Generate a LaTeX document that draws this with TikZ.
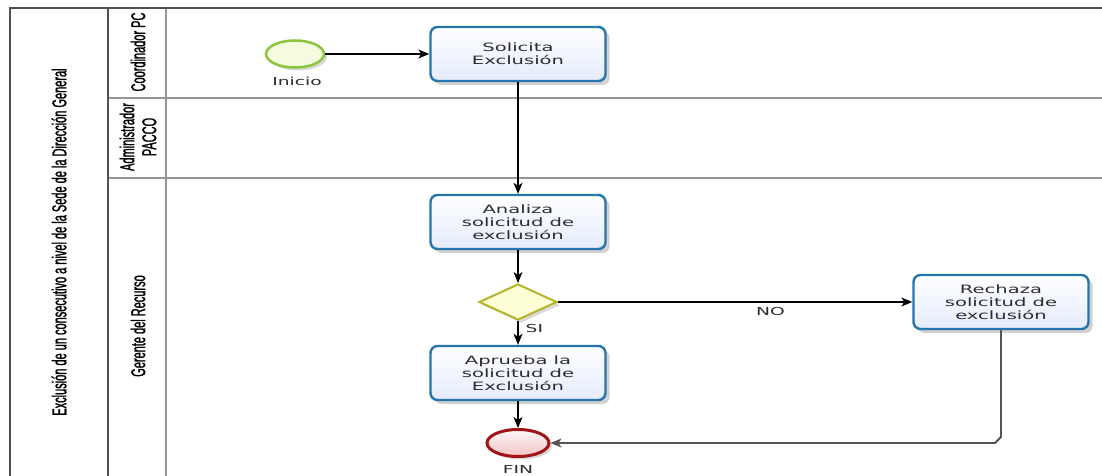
\documentclass[tikz,border=0pt]{standalone}
\usepackage{fontspec}
\newfontfamily\boxfont[FakeStretch=1.7]{DejaVu Sans}
\newfontfamily\lanefont[FakeStretch=0.55,FakeBold=1.2]{Liberation Sans}
\usetikzlibrary{shapes.geometric,arrows.meta,shadows}
\definecolor{taskblue}{RGB}{37,118,170}
\definecolor{taskfill}{RGB}{228,235,252}
\definecolor{startgreen}{RGB}{140,198,63}
\definecolor{startfill}{RGB}{244,251,222}
\definecolor{endred}{RGB}{160,22,22}
\definecolor{endfill}{RGB}{242,196,196}
\definecolor{gateborder}{RGB}{182,180,40}
\definecolor{gatefill}{RGB}{255,255,214}
\definecolor{txtgray}{RGB}{45,45,45}
\definecolor{poolgray}{RGB}{80,80,80}
\definecolor{lanegray}{RGB}{150,150,150}
\definecolor{backgray}{RGB}{85,85,85}
\tikzset{
  poolline/.style={draw=poolgray, line width=1.6pt},
  laneline/.style={draw=lanegray, line width=1.5pt},
  lanelabel/.style={rotate=90, font=\lanefont\fontsize{20}{22}\selectfont, align=center, text=black, inner sep=0pt},
  task/.style={draw=taskblue, line width=2.4pt, rounded corners=7pt, top color=white, bottom color=taskfill,
    minimum width=175pt, minimum height=54pt, align=center, text=txtgray, inner sep=2pt,
    font=\boxfont\fontsize{11.5}{13}\selectfont,
    drop shadow={shadow xshift=4pt, shadow yshift=-4pt, opacity=0.18, fill=black}},
  startev/.style={ellipse, draw=startgreen, line width=2.5pt, fill=startfill, minimum width=58pt, minimum height=27pt, inner sep=0pt,
    drop shadow={shadow xshift=3pt, shadow yshift=-3pt, opacity=0.15, fill=black}},
  endev/.style={ellipse, draw=endred, line width=3pt, top color=white!85!endfill, bottom color=endfill, minimum width=62pt, minimum height=27pt, inner sep=0pt,
    drop shadow={shadow xshift=3pt, shadow yshift=-3pt, opacity=0.15, fill=black}},
  gateway/.style={diamond, draw=gateborder, line width=2pt, fill=gatefill, minimum width=78pt, minimum height=36pt, inner sep=0pt,
    drop shadow={shadow xshift=3pt, shadow yshift=-3pt, opacity=0.15, fill=black}},
  lbl/.style={font=\boxfont\fontsize{11}{13}\selectfont, text=txtgray, inner sep=0pt},
  flow/.style={draw=black, line width=1.3pt, -{Stealth[length=11pt, width=9pt, inset=3pt]}},
  backflow/.style={draw=backgray, line width=1.8pt, -{Stealth[length=11pt, width=9pt, inset=3pt]}, color=backgray}
}
\begin{document}
\begin{tikzpicture}[x=1pt, y=-1pt]
\useasboundingbox (0,0) rectangle (1102,476);
\fill[white] (0,0) rectangle (1102,476);
% pool and lanes
\draw[laneline] (108,98) -- (1102,98);
\draw[laneline] (108,178) -- (1102,178);
\draw[laneline] (166,8) -- (166,480);
\draw[poolline] (108,8) -- (108,480);
\draw[poolline] (10,480) -- (10,8) -- (1102,8);
\node[lanelabel] (pooltitle) at (59,242) {Exclusión de un consecutivo a nivel de la Sede de la Dirección General};
\node[lanelabel] (lane1) at (138,52) {Coordinador PC};
\node[lanelabel] (lane2) at (138,137) {Administrador\\PACCO};
\node[lanelabel] (lane3) at (138,326) {Gerente del Recurso};
% flow objects
\node[startev] (inicio) at (295,54) {};
\node[lbl, anchor=north] (inicioL) at (297,77) {Inicio};
\node[task] (solicita) at (518,54) {Solicita\\Exclusión};
\node[task] (analiza) at (518,222) {Analiza\\solicitud de\\exclusión};
\node[gateway] (gw) at (518,302) {};
\node[task] (aprueba) at (518,373) {Aprueba la\\solicitud de\\Exclusión};
\node[task] (rechaza) at (1001,302) {Rechaza\\solicitud de\\exclusión};
\node[endev] (fin) at (518,443) {};
\node[lbl, anchor=north] (finL) at (518,465) {FIN};
\coordinate (c1) at (1001,437);
\coordinate (c2) at (995,443);
% connectors
\draw[flow] (inicio) -- (solicita);
\draw[flow] (solicita) -- (analiza);
\draw[flow] (analiza) -- (gw);
\draw[flow] (gw) -- node[lbl, pos=0.3, right=7pt] (si) {SI} (aprueba);
\draw[flow] (gw) -- node[lbl, below=5pt, pos=0.6] (no) {NO} (rechaza);
\draw[flow] (aprueba) -- (fin);
\draw[backflow] (rechaza.south) -- (c1) -- (c2) -- (fin.east);
\end{tikzpicture}
\end{document}
